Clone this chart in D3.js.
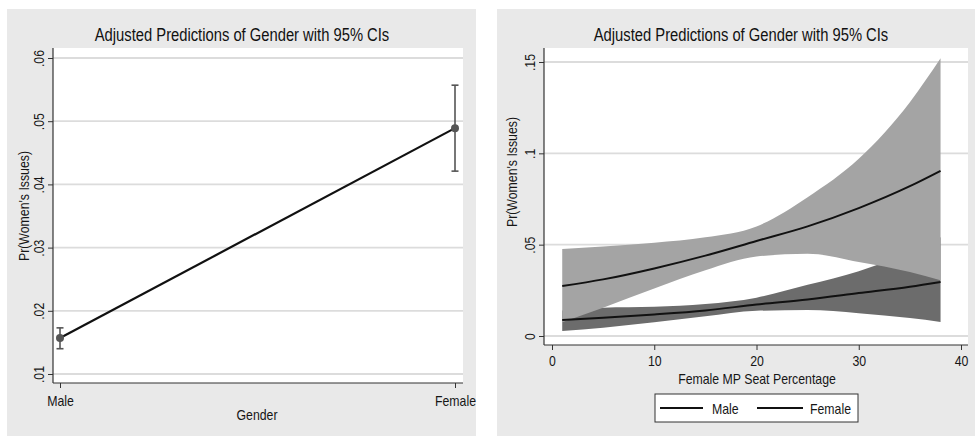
<!DOCTYPE html>
<html>
<head>
<meta charset="utf-8">
<script src="https://cdn.jsdelivr.net/npm/d3@7"></script>
<style>
  body { margin: 0; background: #ffffff; }
  text { font-family: "Liberation Sans Narrow", "Arial Narrow", "Liberation Sans", Arial, sans-serif; fill: #161616; }
</style>
</head>
<body>
<svg id="chart" width="975" height="438"></svg>
<script>
// ---- Left panel: predicted probability by gender ----
const genderCats = ["Male", "Female"];
const genderPred = [0.0157, 0.0489];
const genderLow  = [0.0140, 0.0421];
const genderHigh = [0.0173, 0.0557];
const leftYTicks = [0.01, 0.02, 0.03, 0.04, 0.05, 0.06];
const leftYLabels = [".01", ".02", ".03", ".04", ".05", ".06"];

// ---- Right panel: predictions across female MP seat share ----
const seatPct    = [1, 5, 10, 15, 20, 25, 30, 35, 38];
const malePred   = [0.0088, 0.0100, 0.0118, 0.0140, 0.0172, 0.0200, 0.0235, 0.0270, 0.0296];
const maleLow    = [0.0027, 0.0045, 0.0075, 0.0108, 0.0138, 0.0142, 0.0125, 0.0098, 0.0077];
const maleHigh   = [0.0140, 0.0155, 0.0160, 0.0175, 0.0210, 0.0280, 0.0355, 0.0460, 0.0540];
const femalePred = [0.0274, 0.0310, 0.0370, 0.0440, 0.0520, 0.0600, 0.0700, 0.0820, 0.0904];
const femaleLow  = [0.0075, 0.0155, 0.0260, 0.0360, 0.0435, 0.0450, 0.0405, 0.0350, 0.0305];
const femaleHigh = [0.0476, 0.0490, 0.0510, 0.0540, 0.0600, 0.0760, 0.0970, 0.1280, 0.1520];
const rightYTicks = [0, 0.05, 0.1, 0.15];
const rightYLabels = ["0", ".05", ".1", ".15"];
const rightXTicks = [0, 10, 20, 30, 40];
const seriesNames = ["Male", "Female"];

const titleText = "Adjusted Predictions of Gender with 95% CIs";
const yTitle = "Pr(Women's Issues)";

const svg = d3.select("#chart");
const PANEL_BG = "#e9e9e9", GRID = "#dcdcdc", AXIS = "#333333";

function panel(x, y, w, h) {
  svg.append("rect").attr("x", x).attr("y", y).attr("width", w).attr("height", h).attr("fill", PANEL_BG);
}

function plotArea(g, x0, x1, y0, y1) {
  g.append("rect").attr("x", x0).attr("y", y0).attr("width", x1 - x0).attr("height", y1 - y0).attr("fill", "#ffffff");
}

function gridlines(g, yScale, ticks, x0, x1) {
  g.append("g").selectAll("line").data(ticks).join("line")
    .attr("x1", x0).attr("x2", x1)
    .attr("y1", d => yScale(d)).attr("y2", d => yScale(d))
    .attr("stroke", GRID).attr("stroke-width", 1.8);
}

function yAxis(g, yScale, ticks, labels, xPos, y0, y1) {
  const ax = g.append("g").attr("transform", `translate(${xPos},0)`)
    .call(d3.axisLeft(yScale).tickValues(ticks).tickFormat((d, i) => labels[i]).tickSize(5).tickSizeOuter(0));
  ax.select(".domain").remove();
  ax.selectAll(".tick line").attr("stroke", AXIS);
  ax.selectAll(".tick text")
    .attr("transform", "rotate(-90)")
    .attr("x", 0).attr("y", -9).attr("dy", 0)
    .attr("text-anchor", "middle")
    .style("font-size", "15px");
  g.append("line").attr("x1", xPos).attr("x2", xPos).attr("y1", y0).attr("y2", y1)
    .attr("stroke", AXIS).attr("stroke-width", 1.2);
}

function xAxis(g, xScale, ticks, fmt, yPos, x0, x1, labelY) {
  const ax = g.append("g").attr("transform", `translate(0,${yPos})`)
    .call(d3.axisBottom(xScale).tickValues(ticks).tickFormat(fmt).tickSize(5).tickSizeOuter(0));
  ax.select(".domain").remove();
  ax.selectAll(".tick line").attr("stroke", AXIS);
  ax.selectAll(".tick text").attr("y", labelY).attr("dy", 0).style("font-size", "15px");
  g.append("line").attr("x1", x0).attr("x2", x1).attr("y1", yPos).attr("y2", yPos)
    .attr("stroke", AXIS).attr("stroke-width", 1.2);
  return ax;
}

function title(g, cx, y) {
  g.append("text").attr("x", cx).attr("y", y).attr("text-anchor", "middle")
    .style("font-size", "18px").style("fill", "#111").text(titleText);
}

function yLabel(g, cx, cy) {
  g.append("text").attr("transform", `translate(${cx},${cy}) rotate(-90)`)
    .attr("text-anchor", "middle").style("font-size", "15px").text(yTitle);
}

// ===== Left panel =====
panel(7, 9, 469, 427);
const L = svg.append("g");
const lx0 = 53, lx1 = 463, ly0 = 48, ly1 = 383;
plotArea(L, lx0, lx1, ly0, ly1);
const lx = d3.scalePoint().domain(genderCats).range([60, 455]);
const ly = d3.scaleLinear().domain([0.01, 0.06]).range([374, 58]);
gridlines(L, ly, leftYTicks, lx0, lx1);
yAxis(L, ly, leftYTicks, leftYLabels, lx0, ly0, ly1);
xAxis(L, lx, genderCats, d => d, ly1, lx0, lx1, 23);
title(L, 242, 41);
yLabel(L, 29, 206);
L.append("text").attr("x", 257).attr("y", 420).attr("text-anchor", "middle")
  .style("font-size", "15px").text("Gender");

const gData = genderCats.map((c, i) => ({ c, p: genderPred[i], lo: genderLow[i], hi: genderHigh[i] }));
// connecting line
L.append("path").datum(gData)
  .attr("d", d3.line().x(d => lx(d.c)).y(d => ly(d.p)))
  .attr("fill", "none").attr("stroke", "#111").attr("stroke-width", 2.2);
// confidence intervals
const ci = L.append("g").selectAll("g").data(gData).join("g").attr("stroke", "#555").attr("stroke-width", 1.6);
ci.append("line").attr("x1", d => lx(d.c)).attr("x2", d => lx(d.c)).attr("y1", d => ly(d.lo)).attr("y2", d => ly(d.hi));
ci.append("line").attr("x1", d => lx(d.c) - 3.5).attr("x2", d => lx(d.c) + 3.5).attr("y1", d => ly(d.lo)).attr("y2", d => ly(d.lo));
ci.append("line").attr("x1", d => lx(d.c) - 3.5).attr("x2", d => lx(d.c) + 3.5).attr("y1", d => ly(d.hi)).attr("y2", d => ly(d.hi));
L.append("g").selectAll("circle").data(gData).join("circle")
  .attr("cx", d => lx(d.c)).attr("cy", d => ly(d.p)).attr("r", 4).attr("fill", "#555");

// ===== Right panel =====
panel(497, 9, 478, 427);
const R = svg.append("g");
const rx0 = 544, rx1 = 968, ry0 = 48, ry1 = 345;
plotArea(R, rx0, rx1, ry0, ry1);
const rx = d3.scaleLinear().domain([0, 40]).range([552, 961]);
const ry = d3.scaleLinear().domain([0, 0.15]).range([336, 62]);
gridlines(R, ry, rightYTicks, rx0, rx1);

const rows = seatPct.map((s, i) => ({
  s, mp: malePred[i], ml: maleLow[i], mh: maleHigh[i],
  fp: femalePred[i], fl: femaleLow[i], fh: femaleHigh[i]
}));
const curve = d3.curveMonotoneX;
const band = (lo, hi) => d3.area().curve(curve).x(d => rx(d.s)).y0(d => ry(d[lo])).y1(d => ry(d[hi]));
const line = key => d3.line().curve(curve).x(d => rx(d.s)).y(d => ry(d[key]));

R.append("path").datum(rows).attr("d", band("ml", "mh")).attr("fill", "#6c6c6c");
R.append("path").datum(rows).attr("d", band("fl", "fh")).attr("fill", "#a4a4a4");
R.append("path").datum(rows).attr("d", line("mp")).attr("fill", "none").attr("stroke", "#111").attr("stroke-width", 2);
R.append("path").datum(rows).attr("d", line("fp")).attr("fill", "none").attr("stroke", "#111").attr("stroke-width", 2);

yAxis(R, ry, rightYTicks, rightYLabels, rx0, ry0, ry1);
xAxis(R, rx, rightXTicks, d3.format("d"), ry1, rx0, rx1, 21);
title(R, 741, 41);
yLabel(R, 517, 172);
R.append("text").attr("x", 757).attr("y", 383.5).attr("text-anchor", "middle")
  .style("font-size", "15px").text("Female MP Seat Percentage");

// legend
const lg = R.append("g");
lg.append("rect").attr("x", 655).attr("y", 394).attr("width", 203).attr("height", 28)
  .attr("fill", "#fff").attr("stroke", "#333").attr("stroke-width", 1);
const legendPos = [{ x: 660, w: 43, t: 712 }, { x: 757, w: 46, t: 810 }];
seriesNames.forEach((name, i) => {
  const p = legendPos[i];
  lg.append("line").attr("x1", p.x).attr("x2", p.x + p.w).attr("y1", 408).attr("y2", 408)
    .attr("stroke", "#111").attr("stroke-width", 2);
  lg.append("text").attr("x", p.t).attr("y", 413.5).style("font-size", "15px").text(name);
});

// narrow all labels horizontally, in the style of a condensed sans face
svg.selectAll("text").each(function () {
  const w = this.getComputedTextLength();
  if (w > 0) {
    this.setAttribute("textLength", (w * 0.82).toFixed(1));
    this.setAttribute("lengthAdjust", "spacingAndGlyphs");
  }
});
</script>
</body>
</html>
